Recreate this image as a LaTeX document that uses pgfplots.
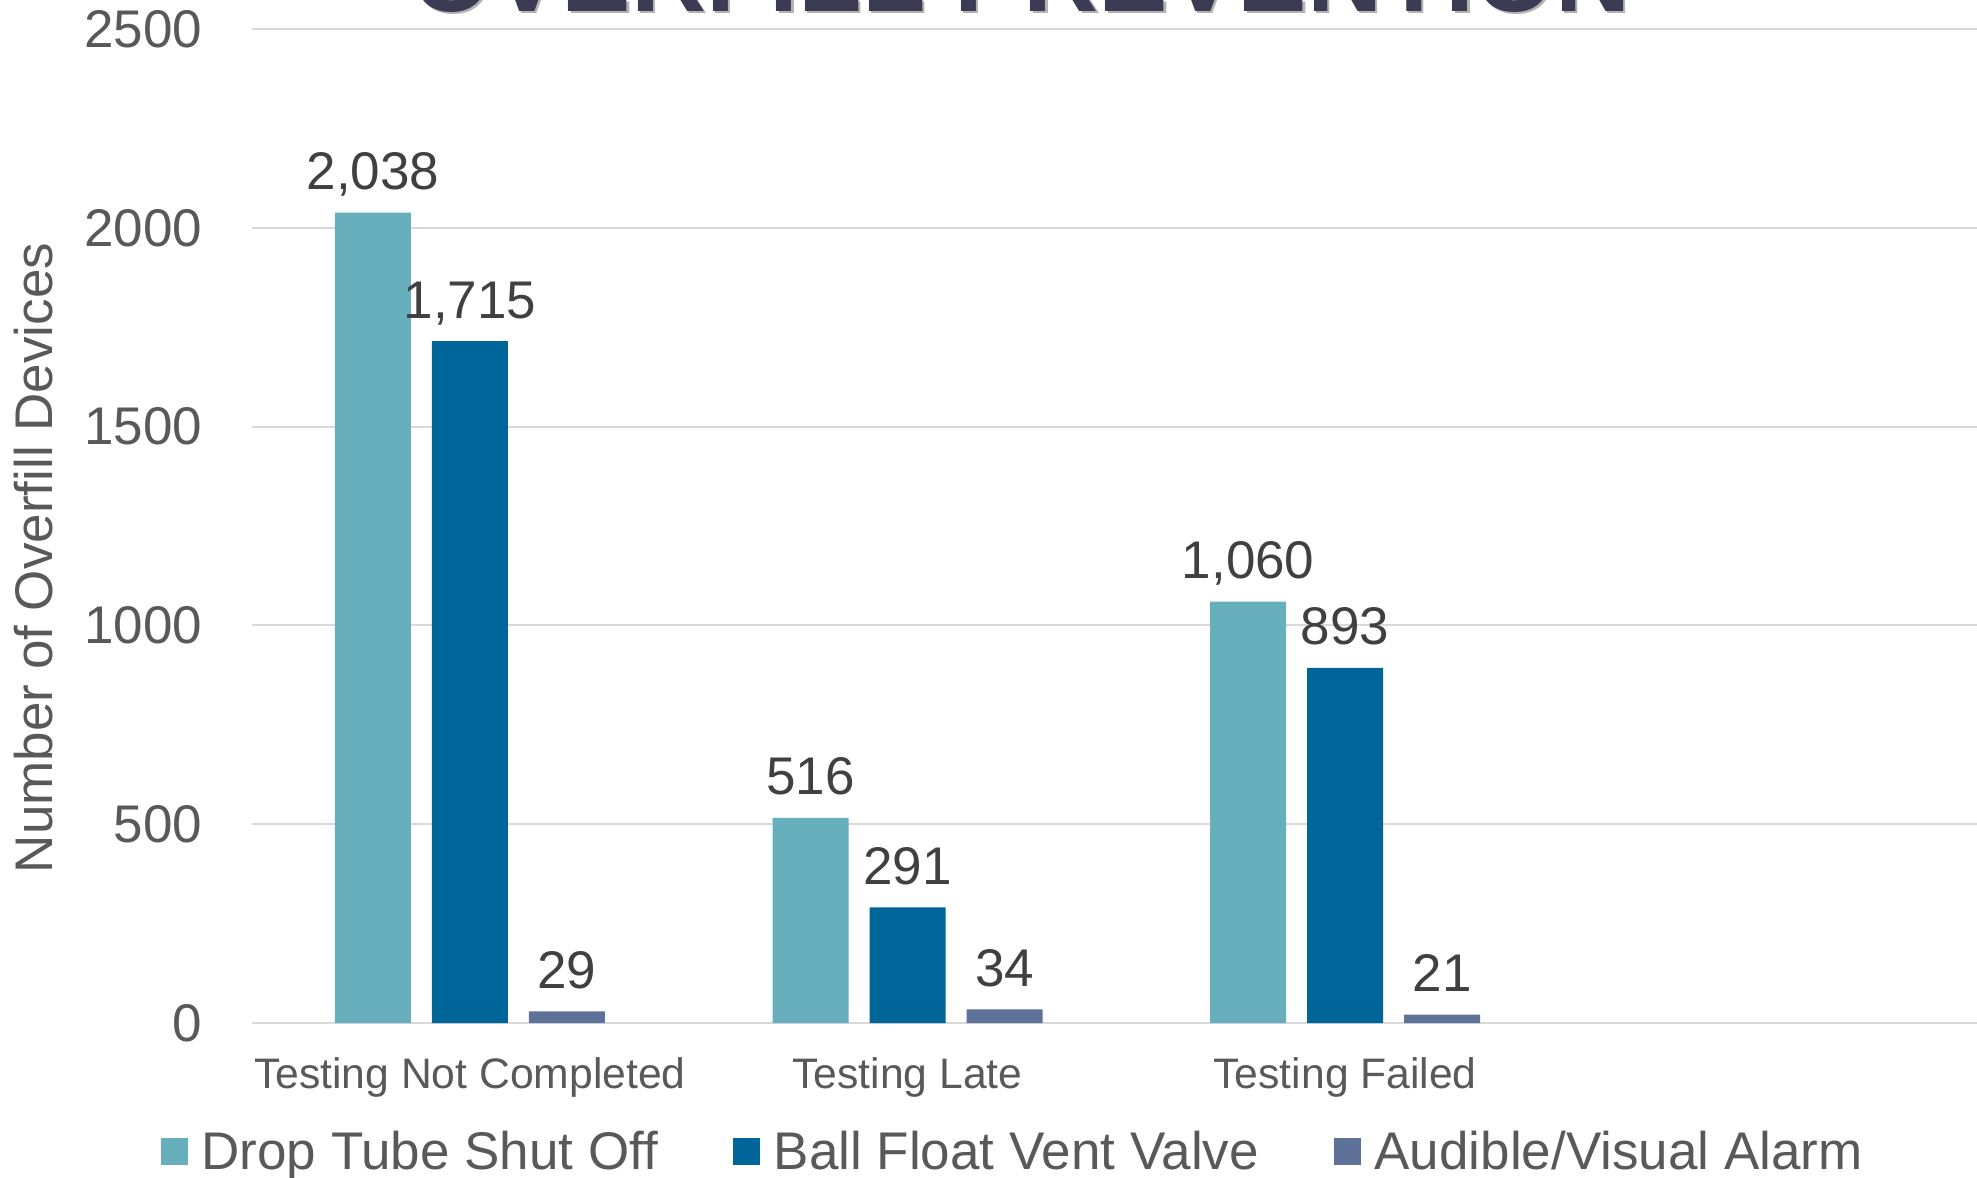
\documentclass[border=0pt]{standalone}
\usepackage{fontspec}
\setmainfont{Liberation Sans}
\usepackage{pgfplots}
\pgfplotsset{compat=1.18}
\definecolor{cA}{HTML}{68AFBD}
\definecolor{cB}{HTML}{006699}
\definecolor{cC}{HTML}{5E7299}
\definecolor{tickgray}{HTML}{595959}
\definecolor{labgray}{HTML}{404040}
\definecolor{gridgray}{HTML}{D9D9D9}
\definecolor{titlecol}{HTML}{3B3B53}
\begin{document}
\begin{tikzpicture}
\useasboundingbox (0,0) rectangle (593.1pt,353.1pt);
\clip (0,0) rectangle (593.1pt,353.1pt);
\node[anchor=base, font=\fontsize{31.2}{36}\selectfont\bfseries, text=black!30, inner sep=0pt] at (307.0pt,349.0pt) {OVERFILL PREVENTION};
\node[anchor=base, font=\fontsize{31.2}{36}\selectfont\bfseries, text=titlecol, inner sep=0pt] at (306.3pt,349.7pt) {OVERFILL PREVENTION};
\begin{axis}[
  at={(75.6pt,46.2pt)}, anchor=south west,
  scale only axis, width=517.5pt, height=298.2pt,
  xmin=-0.498, xmax=3.444, ymin=0, ymax=2500,
  xtick={0,1,2}, xticklabels={Testing Not Completed, Testing Late, Testing Failed},
  ytick={0,500,1000,1500,2000,2500}, yticklabels={0,500,1000,1500,2000,2500},
  major tick length=0pt,
  axis line style={draw=none},
  ymajorgrids, major grid style={draw=gridgray, line width=0.6pt},
  /pgf/number format/assume math mode=true,
  xticklabel style={font=\fontsize{12.8}{15}\selectfont, text=tickgray, anchor=base, inner sep=0pt, yshift=-19.5pt},
  yticklabel style={font=\fontsize{15.9}{19}\selectfont, text=tickgray, anchor=east, inner sep=0pt, xshift=-14.7pt},
  ylabel={Number of Overfill Devices},
  ylabel style={font=\fontsize{15.9}{19}\selectfont, text=tickgray, at={(rel axis cs:-0.1159,0.4678)}, anchor=base, inner sep=0pt},
  ybar, bar width=0.1737,
  nodes near coords,
  every node near coord/.append style={font=\fontsize{15.9}{19}\selectfont, text=labgray, inner sep=0pt, anchor=base, yshift=6.9pt},
  legend columns=3,
  legend style={draw=none, fill=none, at={(rel axis cs:0.4405,-0.1303)}, anchor=center,
    font=\fontsize{15.9}{19}\selectfont, text=tickgray, nodes={inner sep=0pt},
    /tikz/every even column/.append style={column sep=22.6pt},
    /tikz/every odd column/.append style={column sep=4.0pt}},
  legend image code/.code={\fill[#1] (0pt,-3.6pt) rectangle (8.1pt,4.5pt);},
]
\addplot[fill=cA, draw=none, bar shift=-0.2217] coordinates {(0,2038) (1,516) (2,1060)};
\addlegendentry{Drop Tube Shut Off}
\addplot[fill=cB, draw=none, bar shift=0] coordinates {(0,1715) (1,291) (2,893)};
\addlegendentry{Ball Float Vent Valve}
\addplot[fill=cC, draw=none, bar shift=0.2217] coordinates {(0,29) (1,34) (2,21)};
\addlegendentry{Audible/Visual Alarm}
\end{axis}
\end{tikzpicture}
\end{document}
